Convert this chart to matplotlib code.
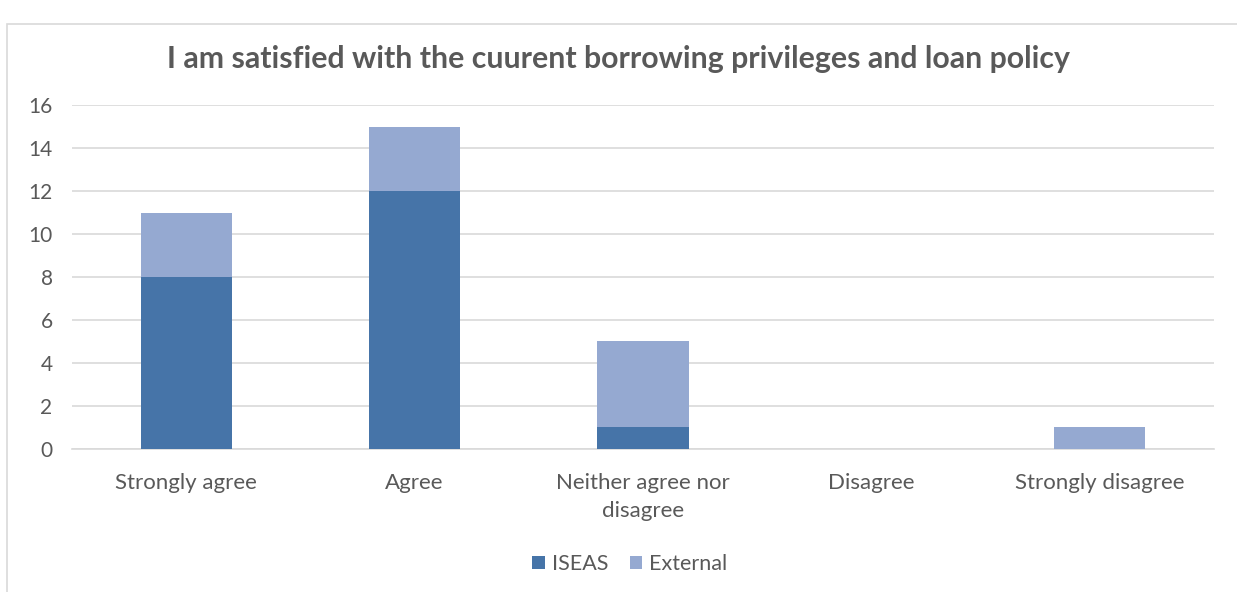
import numpy as np
import matplotlib.pyplot as plt
from matplotlib.patches import Rectangle

# Data
categories = ["Strongly agree", "Agree", "Neither agree nor\ndisagree",
              "Disagree", "Strongly disagree"]
iseas = [8, 12, 1, 0, 0]
external = [3, 3, 4, 0, 1]
y_ticks = [0, 2, 4, 6, 8, 10, 12, 14, 16]

plt.rcParams['font.family'] = ['Lato', 'DejaVu Sans']
text_color = '#595959'
grid_color = '#D9D9D9'

fig = plt.figure(figsize=(12.37, 5.92), dpi=100)
ax = fig.add_axes([0.0582, 0.2416, 0.9232, 0.581])

# Chart border
fig.patches.append(Rectangle((7 / 1237, -0.05), 1.1, 0.03 + (592 - 12) / 592,
                             transform=fig.transFigure, fill=False,
                             edgecolor=grid_color, linewidth=1.2))

x = np.arange(len(categories))
ax.bar(x, iseas, width=0.4, color='#4674A8', label='ISEAS', zorder=3)
ax.bar(x, external, width=0.4, bottom=iseas, color='#95A9D1',
       label='External', zorder=3)

ax.set_xlim(-0.5, len(categories) - 0.5)
ax.set_ylim(0, 16)
ax.set_yticks(y_ticks)
ax.set_xticks(x)
ax.set_xticklabels(categories, fontsize=16, color=text_color,
                   linespacing=1.55)
ax.tick_params(axis='y', labelsize=15, labelcolor=text_color, length=0,
               pad=14)
ax.tick_params(axis='x', length=0, pad=17)
ax.grid(axis='y', color=grid_color, linewidth=1.2, zorder=0)
for side in ['top', 'right', 'left']:
    ax.spines[side].set_visible(False)
ax.spines['bottom'].set_color(grid_color)
ax.spines['bottom'].set_linewidth(1.2)

fig.text(0.5, 0.9, "I am satisfied with the cuurent borrowing privileges and loan policy",
         ha='center', va='center', fontsize=21.8, fontweight='bold',
         color=text_color)

fig.legend(loc='center', bbox_to_anchor=(0.509, 0.047), ncol=2, frameon=False,
           fontsize=15.5, labelcolor=text_color, handlelength=0.6,
           handleheight=0.6, handletextpad=0.3, columnspacing=1.0)

fig.savefig('out.png', dpi=100)
